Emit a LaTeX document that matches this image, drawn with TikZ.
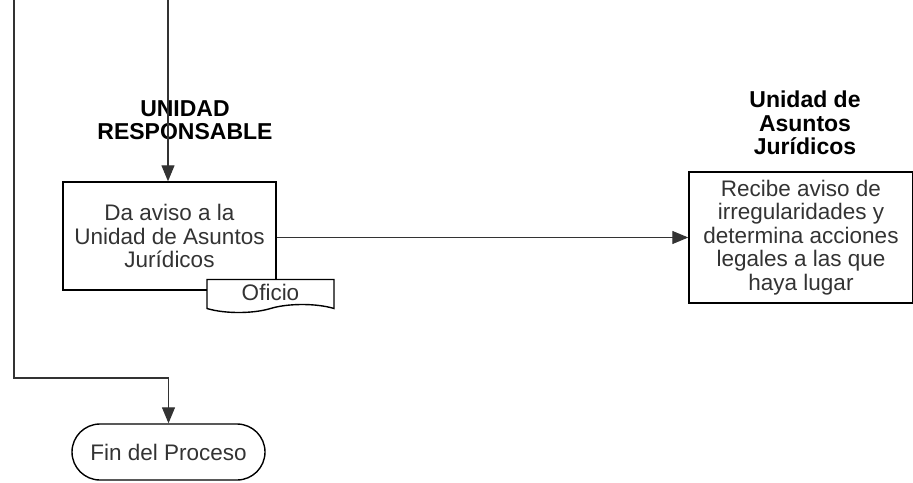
\documentclass[tikz,border=0pt]{standalone}
\usepackage{fontspec}
\setmainfont{Liberation Sans}
\usetikzlibrary{arrows.meta,shapes.symbols,shapes.misc}

\begin{document}
\begin{tikzpicture}[x=1pt,y=-1pt, font=\fontsize{22.5}{23.5}\selectfont,
  proceso/.style={draw, line width=1.4pt, align=center, text=black!80, inner sep=0pt},
  titulo/.style={align=center, font=\fontsize{23}{23.5}\selectfont\bfseries},
  flecha/.style={-{Triangle[length=16pt,width=13pt]}, line width=1.1pt, draw=black!80}]
\useasboundingbox (0,0) rectangle (913,482);

% actividades
\node[titulo] (ur) at (185,120) {UNIDAD\\RESPONSABLE};
\node[titulo] (uaj) at (805,123) {Unidad de\\Asuntos\\Jurídicos};
\node[proceso, minimum width=213pt, minimum height=108pt] (aviso) at (169.5,236) {Da aviso a la\\Unidad de Asuntos\\Jurídicos};
\node[proceso, tape, tape bend top=none, tape bend height=8pt, fill=white, minimum width=127pt, minimum height=33pt] (oficio) at (270.5,292) {Oficio};
\node[proceso, minimum width=224pt, minimum height=131pt] (juridico) at (801,237.5) {Recibe aviso de\\irregularidades y\\determina acciones\\legales a las que\\haya lugar};
\node[proceso, rounded rectangle, minimum width=193pt, minimum height=56pt] (fin) at (168.5,452) {Fin del Proceso};

% conexiones
\coordinate (izq) at (14,0);
\coordinate (arriba) at (168,0);
\coordinate (codo) at (14,378);
\draw[flecha] (arriba) -- (arriba |- aviso.north);
\draw[flecha] (aviso.east |- juridico.west) -- (juridico.west);
\draw[flecha] (izq) -- (codo) -| (fin.north);
\end{tikzpicture}
\end{document}
